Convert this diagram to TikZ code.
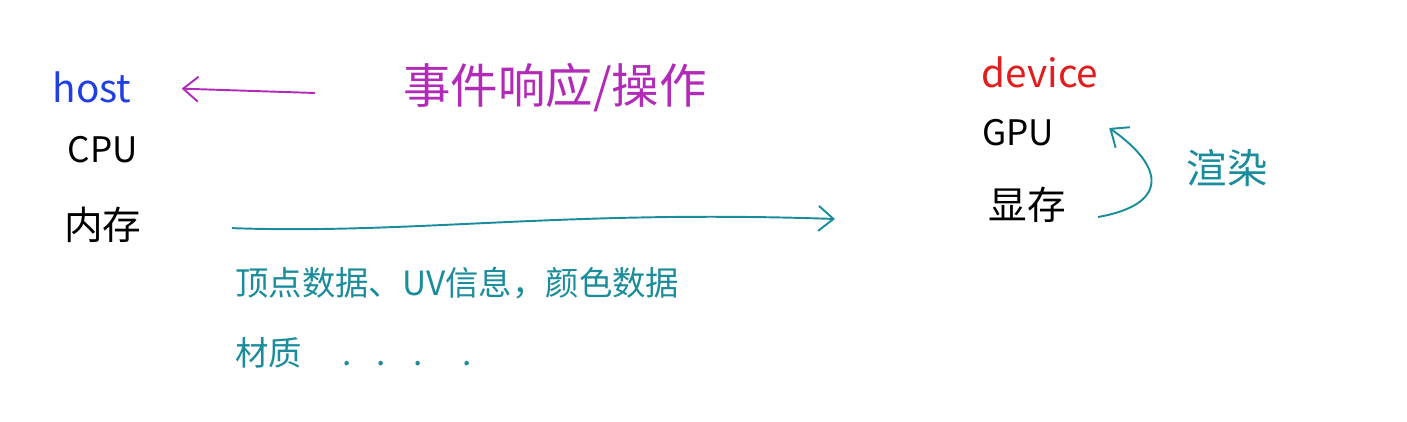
\documentclass[tikz,border=0pt]{standalone}
\usepackage{fontspec}
\setmainfont{Noto Sans CJK SC}
\usepackage{xcolor}
\usepackage{tikz}
\usetikzlibrary{positioning, arrows.meta}
\definecolor{hostblue}{HTML}{1F3FE0}
\definecolor{eventmagenta}{HTML}{B22BB8}
\definecolor{devicered}{HTML}{E01E1E}
\definecolor{dataeal}{HTML}{1A8C9C}
\tikzset{
  side/.style={inner sep=0pt, font=\fontsize{22}{26}\selectfont},
  part/.style={inner sep=0pt, font=\fontsize{22}{26}\selectfont, text=black},
  note/.style={inner sep=0pt, anchor=west, text=dataeal, font=\fontsize{19}{23}\selectfont},
  eventarrow/.style={-{Straight Barb[length=3mm, width=5mm]}, line width=1.1pt, draw=eventmagenta},
  flow/.style={-{Straight Barb[length=3mm, width=5mm]}, line width=1.1pt, draw=dataeal},
}

\begin{document}
\begin{tikzpicture}[x=0.2mm, y=-0.2mm]
  \useasboundingbox (0,0) rectangle (1407,422);
  % host side
  \node[side, text=hostblue] (host) at (92,87) {host};
  \node[part, font=\fontsize{20}{24}\selectfont] (cpu) at (103,150) {CPU};
  \node[part] (mem) at (103,225) {内存};
  % device side
  \node[side, text=devicered] (device) at (1040,72) {device};
  \node[part, font=\fontsize{20}{24}\selectfont] (gpu) at (1018,133) {GPU};
  \node[part] (vram) at (1027,205) {显存};
  % labels
  \node[inner sep=0pt, text=eventmagenta, font=\fontsize{27}{32}\selectfont] (event) at (555,88) {事件响应/操作};
  \node[inner sep=0pt, text=dataeal, font=\fontsize{23}{27}\selectfont] (render) at (1227,168) {渲染};
  \node[note] (data) at (235,283) {顶点数据、UV信息，颜色数据};
  \node[note] (material) at (235,353) {材质\hspace{8mm}.\hspace{5mm}.\hspace{5.5mm}.\hspace{8mm}.};
  \coordinate (evstart) at (315,93);
  \coordinate (sendend) at (835,219);

  \draw[eventarrow, shorten >=10mm] (evstart) -- (host.east);
  \draw[flow, shorten <=18mm] (mem.east) to[out=-2, in=178] (sendend);
  \draw[flow] ([shift={(32,12)}]vram.east) to[out=10, in=-35, looseness=2] ([shift={(55,-5)}]gpu.east);
\end{tikzpicture}
\end{document}
